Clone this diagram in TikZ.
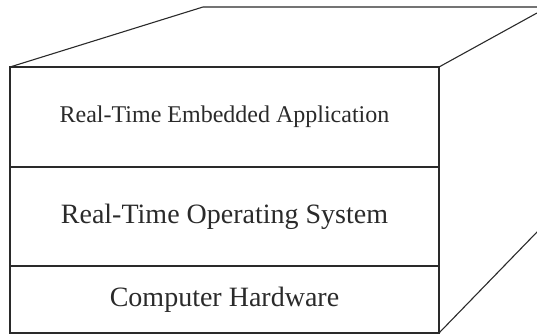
\documentclass[tikz,border=0pt]{standalone}
\usepackage{fontspec}
\setmainfont{Liberation Serif}
\usepackage{tikz}
\usetikzlibrary{positioning}
\definecolor{BoxInk}{HTML}{2A2A2A}
\tikzset{
  layer/.style={draw=BoxInk,line width=1.1pt,minimum width=429pt,
                inner sep=0pt,outer sep=0pt,text=BoxInk},
  edge/.style={draw=BoxInk,line width=1.1pt}
}

\begin{document}
\begin{tikzpicture}[x=1pt,y=1pt]
  \useasboundingbox (0,0) rectangle (537,335);
  % Stack of layers, front face.
  \node[layer,minimum height=67pt,font=\fontsize{28}{32}\selectfont]
        (hw) at (224.5,35.5) {Computer Hardware};
  \node[layer,minimum height=99pt,above=0pt of hw,
        font=\fontsize{28}{32}\selectfont] (rtos) {Real-Time Operating System};
  \node[layer,minimum height=100pt,above=0pt of rtos,
        font=\fontsize{24}{28}\selectfont] (app) {Real-Time Embedded Application};
  % Depth lines running off to the back.
  \coordinate (backleft) at (203,328);
  \coordinate (backtop) at (537,328);
  \coordinate (backright) at (537,322);
  \coordinate (backfoot) at (537,103);
  \draw[edge] (app.north west) -- (backleft) -- (backtop);
  \draw[edge] (app.north east) -- (backright);
  \draw[edge] (hw.south east) -- (backfoot);
\end{tikzpicture}
\end{document}
